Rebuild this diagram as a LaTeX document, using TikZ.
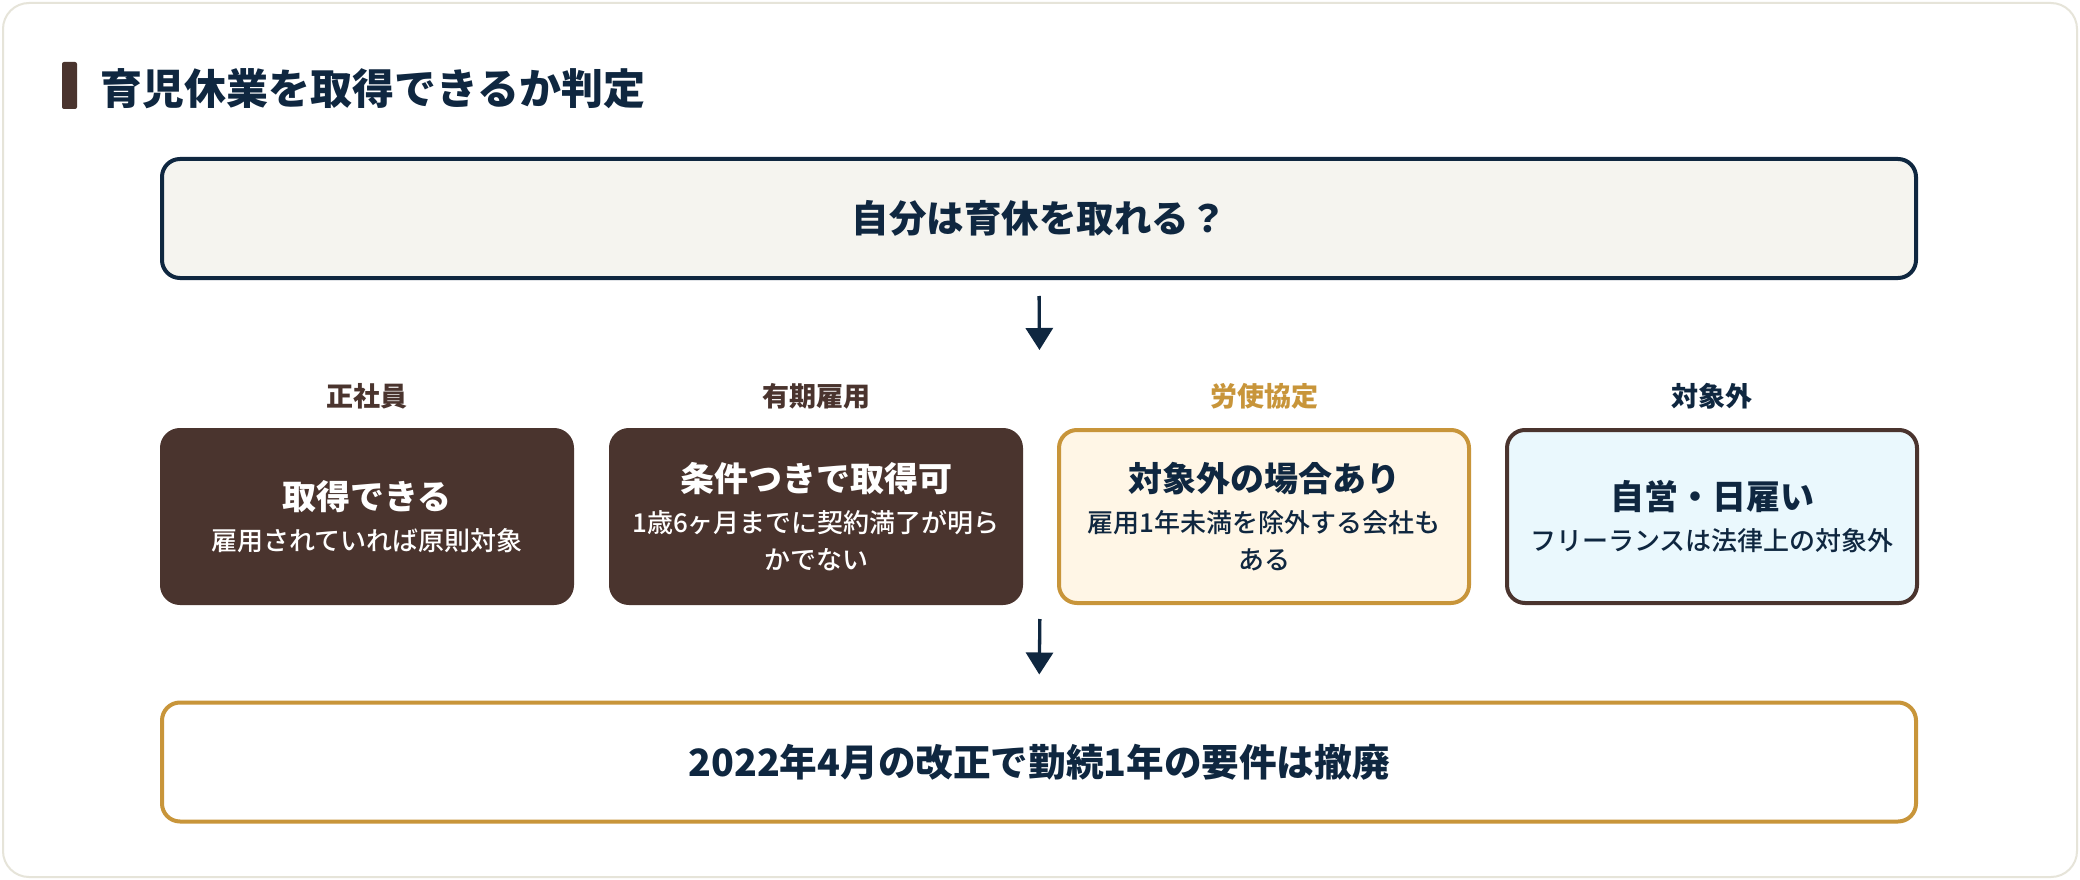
\documentclass[tikz,border=0pt]{standalone}
\usepackage{fontspec}
\usepackage{tikz}
\usetikzlibrary{arrows.meta,calc}
\newfontfamily\jpfont{Noto Sans CJK JP}
\newfontfamily\jpmid{Noto Sans CJK JP Medium}
\definecolor{navy}{HTML}{0F2740}
\definecolor{cocoa}{HTML}{4A342E}
\definecolor{gold}{HTML}{C8953A}
\definecolor{cream}{HTML}{FFF6E6}
\definecolor{ice}{HTML}{EAF8FD}
\definecolor{paper}{HTML}{F5F4EF}
\definecolor{edge}{HTML}{E6E4D9}
\newcommand{\bigline}{\jpfont\bfseries\fontsize{34}{40}\selectfont}
\tikzset{
    wide/.style={rounded corners=18pt, minimum width=1754pt, minimum height=119pt,
        line width=4pt, inner sep=0pt, text=navy,
        font=\jpfont\bfseries\fontsize{37.5}{44}\selectfont},
    card/.style={rounded corners=18pt, minimum width=410pt, minimum height=173pt,
        line width=4pt, inner sep=0pt, align=center,
        font=\jpmid\fontsize{26}{37}\selectfont},
    darkcard/.style={card, draw=cocoa, fill=cocoa, text=white},
    tag/.style={inner sep=0pt, font=\jpfont\bfseries\fontsize{27}{32}\selectfont},
    flow/.style={draw=navy, line width=3.3pt, -{Triangle[length=22pt,width=27pt]}}
}
\begin{document}
\begin{tikzpicture}[x=1pt, y=-1pt]
                        \useasboundingbox (0,0) rectangle (2080,880);
                        \fill[white] (0,0) rectangle (2080,880);
                        \draw[edge, line width=2pt, fill=white, rounded corners=26pt] (3,3) rectangle (2077,877);

                        \fill[cocoa, rounded corners=2pt] (62,62) rectangle (77,109);
                        \node[anchor=west, inner sep=0pt, text=navy,
                            font=\jpfont\bfseries\fontsize{42}{49}\selectfont] (title) at (100,89) {育児休業を取得できるか判定};

                        \node[wide, draw=navy, fill=paper] (ask) at (1039,218.5) {自分は育休を取れる？};

                        \node[darkcard] (c1) at (367,516.5)
                            {{\bigline 取得できる}\\[4.5pt]雇用されていれば原則対象};
                        \node[darkcard] (c2) at (816,516.5)
                            {{\bigline 条件つきで取得可}\\[4pt]1歳6ヶ月までに契約満了が明ら\\かでない};
                        \node[card, draw=gold, fill=cream, text=navy] (c3) at (1264,516.5)
                            {{\bigline 対象外の場合あり}\\[4pt]雇用1年未満を除外する会社も\\ある};
                        \node[card, draw=cocoa, fill=ice, text=navy] (c4) at (1712,516.5)
                            {{\bigline 自営・日雇い}\\[4.5pt]フリーランスは法律上の対象外};

                        \node[tag, text=cocoa] (t1) at ([yshift=32pt]c1.north) {正社員};
                        \node[tag, text=cocoa] (t2) at ([yshift=32pt]c2.north) {有期雇用};
                        \node[tag, text=gold] (t3) at ([yshift=32pt]c3.north) {労使協定};
                        \node[tag, text=navy] (t4) at ([yshift=32pt]c4.north) {対象外};

                        \node[wide, draw=gold, fill=white, font=\jpfont\bfseries\fontsize{37.6}{44}\selectfont] (rule) at (1039,762) {2022年4月の改正で勤続1年の要件は撤廃};

                        \draw[flow, shorten <=16pt, shorten >=78pt] (ask.south) -- ($(c2.north)!0.5!(c3.north)$);
                        \draw[flow, shorten <=14pt, shorten >=26pt] ($(c2.south)!0.5!(c3.south)$) -- (rule.north);
                    \end{tikzpicture}
\end{document}
